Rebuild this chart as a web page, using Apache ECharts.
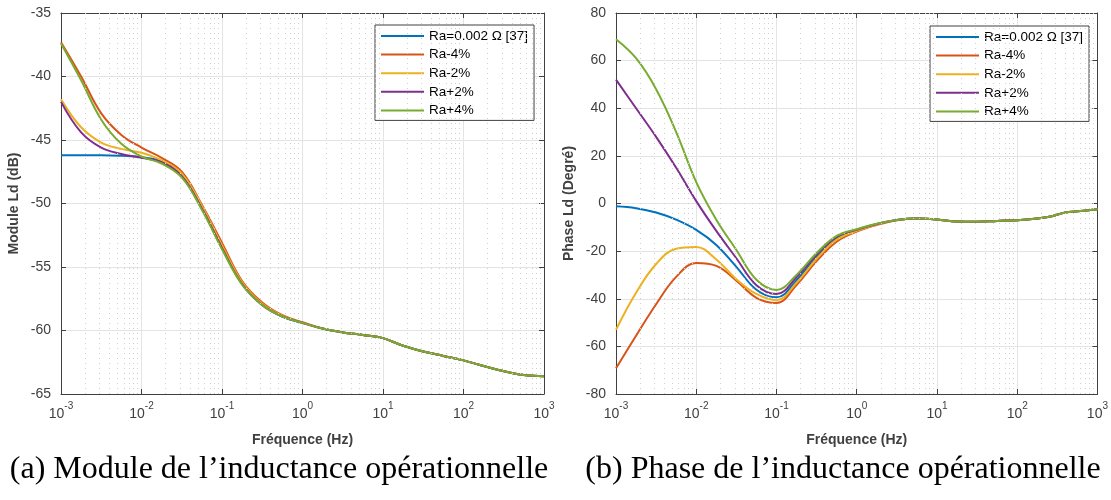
<!DOCTYPE html>
<html>
<head>
<meta charset="utf-8">
<script src="https://cdn.jsdelivr.net/npm/echarts@6/dist/echarts.min.js"></script>
<style>
html, body { margin: 0; padding: 0; background: #fff; }
#chart { width: 1111px; height: 500px; }
</style>
</head>
<body>
<div id="chart"></div>
<script>
// log10 de la fréquence (Hz), commun aux deux tracés
const logFreq = [-3, -2.75, -2.5, -2.25, -2, -1.75, -1.5, -1.25, -1, -0.75, -0.5, -0.25, 0, 0.25, 0.5, 0.75, 1, 1.25, 1.5, 1.75, 2, 2.25, 2.4, 2.6, 2.75, 3]
const names = ['Ra=0.002 Ω [37]', 'Ra-4%', 'Ra-2%', 'Ra+2%', 'Ra+4%']
const colors = ['#0072BD', '#D95319', '#EDB120', '#7E2F8E', '#77AC30'] // bleu rouge jaune violet vert

// module Ld (dB)
const moduleBlue   = [-46.2, -46.2, -46.2, -46.25, -46.35, -46.7, -47.75, -50.3, -53.4, -56.3, -57.95, -58.9, -59.4, -59.85, -60.15, -60.35, -60.6, -61.2, -61.65, -62.0, -62.35, -62.8, -63.05, -63.35, -63.5, -63.6]
const moduleRed    = [-37.3, -40.0, -42.9, -44.6, -45.6, -46.4, -47.5, -50.1, -53.1, -56.1, -57.8, -58.8, -59.35, -59.85, -60.15, -60.35, -60.6, -61.2, -61.65, -62.0, -62.35, -62.8, -63.05, -63.35, -63.5, -63.6]
const moduleYellow = [-41.8, -44.0, -45.2, -45.7, -46.0, -46.6, -47.65, -50.2, -53.3, -56.2, -57.9, -58.85, -59.4, -59.85, -60.15, -60.35, -60.6, -61.2, -61.65, -62.0, -62.35, -62.8, -63.05, -63.35, -63.5, -63.6]
const modulePurple = [-42.0, -44.4, -45.6, -46.1, -46.4, -46.75, -47.85, -50.4, -53.5, -56.35, -58.0, -58.9, -59.4, -59.85, -60.15, -60.35, -60.6, -61.2, -61.65, -62.0, -62.35, -62.8, -63.05, -63.35, -63.5, -63.6]
const moduleGreen  = [-37.4, -40.3, -43.4, -45.3, -46.3, -46.85, -47.95, -50.5, -53.6, -56.4, -58.0, -58.9, -59.4, -59.85, -60.15, -60.35, -60.6, -61.2, -61.65, -62.0, -62.35, -62.8, -63.05, -63.35, -63.5, -63.6]

// phase Ld (degrés)
const phaseBlue   = [-1.2, -2.0, -3.8, -6.8, -11.1, -17.4, -26.6, -36.2, -39.4, -32.2, -22.3, -14.6, -11.3, -8.7, -6.9, -6.3, -6.7, -7.6, -7.7, -7.3, -7.0, -6.3, -5.6, -3.8, -3.3, -2.4]
const phaseRed    = [-69.2, -55.5, -42.3, -30.8, -25.0, -26.2, -32.4, -39.6, -41.8, -34.2, -24.2, -16.0, -11.8, -9.0, -7.0, -6.3, -6.7, -7.6, -7.7, -7.3, -7.0, -6.3, -5.6, -3.8, -3.3, -2.4]
const phaseYellow = [-53.0, -37.5, -25.4, -19.0, -18.3, -23.5, -31.8, -38.0, -40.6, -33.3, -23.2, -15.2, -11.5, -8.8, -6.9, -6.3, -6.7, -7.6, -7.7, -7.3, -7.0, -6.3, -5.6, -3.8, -3.3, -2.4]
const phasePurple = [52.0, 40.0, 28.0, 15.0, 1.0, -11.5, -23.0, -34.3, -38.0, -31.0, -21.5, -14.0, -11.0, -8.6, -6.9, -6.3, -6.7, -7.6, -7.7, -7.3, -7.0, -6.3, -5.6, -3.8, -3.3, -2.4]
const phaseGreen  = [69.0, 61.0, 48.0, 30.0, 9.0, -6.8, -19.5, -32.0, -36.3, -30.0, -20.8, -13.6, -10.8, -8.5, -6.9, -6.3, -6.7, -7.6, -7.7, -7.3, -7.0, -6.3, -5.6, -3.8, -3.3, -2.4]

const moduleSeries = [moduleBlue, moduleRed, moduleYellow, modulePurple, moduleGreen]
const phaseSeries = [phaseBlue, phaseRed, phaseYellow, phasePurple, phaseGreen]

// positions des grilles secondaires (2..9 x 10^n) sur l'axe log
const minorPos = []
for (let n = -3; n < 3; n++) {
    for (let k = 2; k <= 9; k++) minorPos.push(Math.log10(k * Math.pow(10, n)))
}

const axisColor = '#404040'
const font = '"Liberation Sans", Arial, sans-serif'

const chartIns = echarts.init(document.getElementById('chart'))

// axe x logarithmique (en log10) avec étiquettes 10^n
const makeX = (gridIndex) => ({
    type: 'value',
    gridIndex,
    min: -3,
    max: 3,
    interval: 1,
    name: 'Fréquence (Hz)',
    nameLocation: 'middle',
    nameGap: 39,
    nameTextStyle: { color: axisColor, fontSize: 14, fontWeight: 'bold', fontFamily: font },
    axisLine: { show: true, onZero: false, lineStyle: { color: axisColor } },
    axisTick: { show: true, inside: true, length: 5, lineStyle: { color: axisColor } },
    axisLabel: {
        margin: 7,
        formatter: (v) => '{b|10}{s|' + v + '}',
        rich: {
            b: { fontSize: 14, color: axisColor, fontFamily: font, lineHeight: 20, verticalAlign: 'bottom' },
            s: { fontSize: 10, color: axisColor, fontFamily: font, lineHeight: 20, verticalAlign: 'top' }
        }
    },
    splitLine: { show: true, lineStyle: { color: '#e4e4e4' } }
})
// axe x du haut (cadre)
const makeTopX = (gridIndex) => ({
    type: 'value', gridIndex, position: 'top', min: -3, max: 3, interval: 1,
    axisLine: { show: true, onZero: false, lineStyle: { color: axisColor } },
    axisTick: { show: true, inside: true, length: 5, lineStyle: { color: axisColor } },
    axisLabel: { show: false },
    splitLine: { show: false }
})
const makeY = (gridIndex, name, min, max, interval) => ({
    type: 'value',
    gridIndex,
    min, max, interval,
    name,
    nameLocation: 'middle',
    nameGap: 40,
    nameTextStyle: { color: axisColor, fontSize: 14, fontWeight: 'bold', fontFamily: font },
    axisLine: { show: true, onZero: false, lineStyle: { color: axisColor } },
    axisTick: { show: true, inside: true, length: 5, lineStyle: { color: axisColor } },
    axisLabel: { color: axisColor, fontSize: 14, fontFamily: font, margin: 10 },
    splitLine: { show: true, lineStyle: { color: '#e4e4e4' } }
})
const makeRightY = (gridIndex, min, max, interval) => ({
    type: 'value', gridIndex, position: 'right', min, max, interval,
    axisLine: { show: true, onZero: false, lineStyle: { color: axisColor } },
    axisTick: { show: true, inside: true, length: 5, lineStyle: { color: axisColor } },
    axisLabel: { show: false },
    splitLine: { show: false }
})

// série vide qui porte les lignes pointillées de grille mineure
const minorGrid = (xAxisIndex, yAxisIndex) => ({
    type: 'line',
    xAxisIndex, yAxisIndex,
    data: [],
    silent: true,
    z: 1,
    markLine: {
        silent: true,
        symbol: 'none',
        animation: false,
        label: { show: false },
        lineStyle: { color: '#cfcfcf', type: [1, 4], width: 1 },
        data: minorPos.map(x => ({ xAxis: x }))
    }
})

const curves = (values, xAxisIndex, yAxisIndex) => values.map((vals, i) => ({
    type: 'line',
    name: names[i],
    xAxisIndex, yAxisIndex,
    data: logFreq.map((x, j) => [x, vals[j]]),
    smooth: 0.4,
    symbol: 'none',
    z: 3,
    lineStyle: { color: colors[i], width: 2 },
    itemStyle: { color: colors[i] }
}))

const legendCommon = {
    data: names,
    orient: 'vertical',
    icon: 'rect',
    itemWidth: 43,
    itemHeight: 2,
    itemGap: 4.6,
    padding: [4, 6, 3, 6],
    backgroundColor: '#fff',
    borderColor: axisColor,
    borderWidth: 1,
    borderRadius: 0,
    selectedMode: false,
    textStyle: { color: '#000', fontSize: 13.5, fontFamily: font, lineHeight: 14, padding: [0, 0, 0, 0] }
}

const captionFont = '32px "Liberation Serif", serif'

const option = {
    animation: false,
    grid: [
        { left: 61, top: 13, width: 483, height: 381 },
        { left: 616, top: 13, width: 482, height: 381 }
    ],
    xAxis: [makeX(0), makeX(1), makeTopX(0), makeTopX(1)],
    yAxis: [
        makeY(0, 'Module Ld (dB)', -65, -35, 5),
        makeY(1, 'Phase Ld (Degré)', -80, 80, 20),
        makeRightY(0, -65, -35, 5),
        makeRightY(1, -80, 80, 20)
    ],
    legend: [
        Object.assign({}, legendCommon, { left: 375, top: 25 }),
        Object.assign({}, legendCommon, { left: 930, top: 26 })
    ],
    graphic: [
        { type: 'text', x: 279, y: 470, style: { text: '(a) Module de l\u2019inductance opérationnelle', font: captionFont, fill: '#000', textAlign: 'center', textVerticalAlign: 'middle' } },
        { type: 'text', x: 843, y: 470, style: { text: '(b) Phase de l\u2019inductance opérationnelle', font: captionFont, fill: '#000', textAlign: 'center', textVerticalAlign: 'middle' } }
    ],
    series: [
        minorGrid(0, 0),
        minorGrid(1, 1),
        ...curves(moduleSeries, 0, 0),
        ...curves(phaseSeries, 1, 1)
    ]
}
chartIns.setOption(option)
</script>
</body>
</html>
